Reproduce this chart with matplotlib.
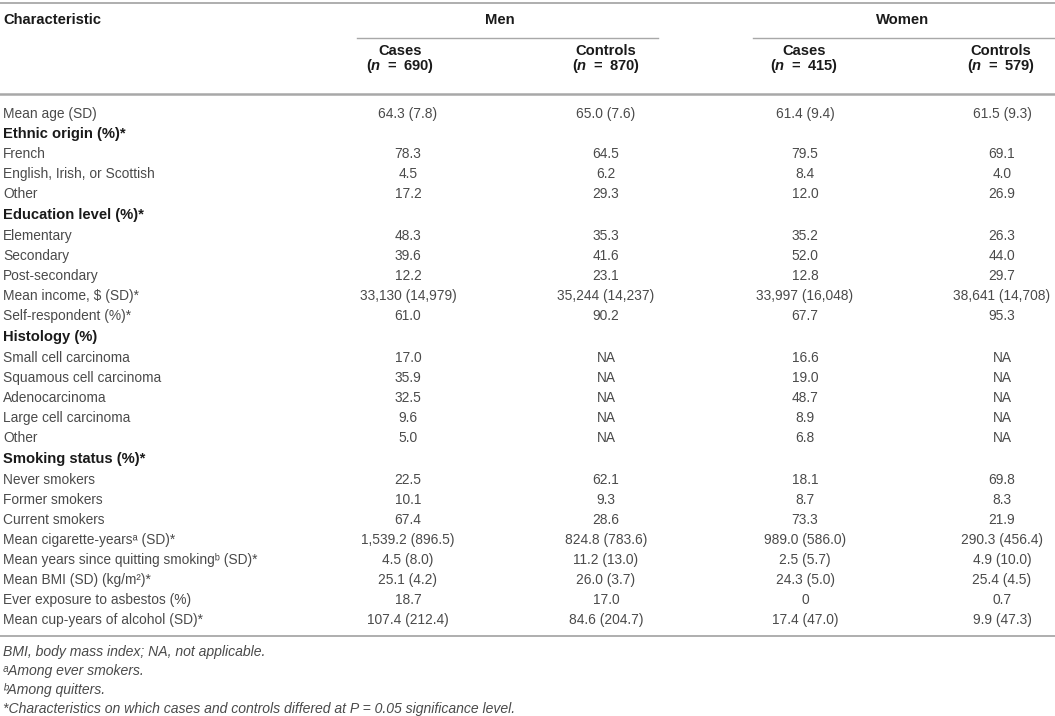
import matplotlib
matplotlib.use("Agg")
import matplotlib.pyplot as plt

plt.rcParams['font.family'] = ['Liberation Sans', 'DejaVu Sans']
plt.rcParams['mathtext.fontset'] = 'custom'
plt.rcParams['mathtext.rm'] = 'Liberation Sans'
plt.rcParams['mathtext.it'] = 'Liberation Sans:italic'
plt.rcParams['mathtext.bf'] = 'Liberation Sans:bold'
plt.rcParams['mathtext.bfit'] = 'Liberation Sans:italic:bold'

# table content
row_labels = [
    "Mean age (SD)",
    "Ethnic origin (%)*",
    "French",
    "English, Irish, or Scottish",
    "Other",
    "Education level (%)*",
    "Elementary",
    "Secondary",
    "Post-secondary",
    "Mean income, \\$ (SD)*",
    "Self-respondent (%)*",
    "Histology (%)",
    "Small cell carcinoma",
    "Squamous cell carcinoma",
    "Adenocarcinoma",
    "Large cell carcinoma",
    "Other",
    "Smoking status (%)*",
    "Never smokers",
    "Former smokers",
    "Current smokers",
    "Mean cigarette-years\u1d43 (SD)*",
    "Mean years since quitting smoking\u1d47 (SD)*",
    "Mean BMI (SD) (kg/m\u00b2)*",
    "Ever exposure to asbestos (%)",
    "Mean cup-years of alcohol (SD)*",
]
section_rows = [1, 5, 11, 17]

men_cases = ["64.3 (7.8)", "", "78.3", "4.5", "17.2", "", "48.3", "39.6", "12.2",
             "33,130 (14,979)", "61.0", "", "17.0", "35.9", "32.5", "9.6", "5.0", "",
             "22.5", "10.1", "67.4", "1,539.2 (896.5)", "4.5 (8.0)", "25.1 (4.2)",
             "18.7", "107.4 (212.4)"]
men_controls = ["65.0 (7.6)", "", "64.5", "6.2", "29.3", "", "35.3", "41.6", "23.1",
                "35,244 (14,237)", "90.2", "", "NA", "NA", "NA", "NA", "NA", "",
                "62.1", "9.3", "28.6", "824.8 (783.6)", "11.2 (13.0)", "26.0 (3.7)",
                "17.0", "84.6 (204.7)"]
women_cases = ["61.4 (9.4)", "", "79.5", "8.4", "12.0", "", "35.2", "52.0", "12.8",
               "33,997 (16,048)", "67.7", "", "16.6", "19.0", "48.7", "8.9", "6.8", "",
               "18.1", "8.7", "73.3", "989.0 (586.0)", "2.5 (5.7)", "24.3 (5.0)",
               "0", "17.4 (47.0)"]
women_controls = ["61.5 (9.3)", "", "69.1", "4.0", "26.9", "", "26.3", "44.0", "29.7",
                  "38,641 (14,708)", "95.3", "", "NA", "NA", "NA", "NA", "NA", "",
                  "69.8", "8.3", "21.9", "290.3 (456.4)", "4.9 (10.0)", "25.4 (4.5)",
                  "0.7", "9.9 (47.3)"]

group_names = ["Men", "Women"]
sub_names = ["Cases", "Controls", "Cases", "Controls"]
sub_counts = ["690", "870", "415", "579"]

footnotes = [
    "BMI, body mass index; NA, not applicable.",
    "\u1d43Among ever smokers.",
    "\u1d47Among quitters.",
    "*Characteristics on which cases and controls differed at P = 0.05 significance level.",
]

W, H = 1055, 716
fig = plt.figure(figsize=(W / 100, H / 100), dpi=100)
ax = fig.add_axes([0, 0, 1, 1])
ax.set_xlim(0, W)
ax.set_ylim(H, 0)
ax.axis('off')

fs = 9.9
fs_b = 10.6
txt = '#4a4a4a'
dark = '#1a1a1a'
rule = '#a8a8a8'
base = 5  # cap-centre to baseline offset, px

col_x = [408, 606, 805, 1002]
head_x = [400, 606, 804, 1001]
group_x = [500, 903]
group_span = [(357, 658), (753, 1055)]

# rules
ax.plot([0, W], [3, 3], color=rule, lw=1.3)
for a, b in group_span:
    ax.plot([a, b], [38, 38], color=rule, lw=1.0)
ax.plot([0, W], [94, 94], color=rule, lw=1.8)
ax.plot([0, W], [636, 636], color=rule, lw=1.3)

# header
ax.text(3, 19 + base, "Characteristic", fontsize=fs_b, fontweight='bold', color=dark,
        va='baseline', ha='left')
for name, x in zip(group_names, group_x):
    ax.text(x, 19 + base, name, fontsize=fs_b, fontweight='bold', color=dark,
            va='baseline', ha='center')
for name, n, x in zip(sub_names, sub_counts, head_x):
    ax.text(x, 50 + base, name, fontsize=fs_b, fontweight='bold', color=dark,
            va='baseline', ha='center')
    ax.text(x, 65 + base, "($\\mathbfit{n}$\u2002=\u2002" + n + ")", fontsize=fs_b,
            fontweight='bold', color=dark, va='baseline', ha='center')

# body
columns = [men_cases, men_controls, women_cases, women_controls]
y = 113
for i, label in enumerate(row_labels):
    if i > 0:
        y += 20
        if i in section_rows and i != section_rows[0]:
            y += 1
        if (i - 1) in section_rows and (i - 1) != section_rows[0]:
            y += 1
    bold = i in section_rows
    ax.text(3, y + base, label, fontsize=fs_b if bold else fs,
            color=dark if bold else txt,
            fontweight='bold' if bold else 'normal', va='baseline', ha='left')
    for col, x in zip(columns, col_x):
        if col[i]:
            ax.text(x, y + base, col[i], fontsize=fs, color=txt,
                    va='baseline', ha='center')

# footnotes
for k, note in enumerate(footnotes):
    ax.text(3, 651 + 19 * k + base, note, fontsize=10.1, style='italic', color=txt,
            va='baseline', ha='left')

fig.savefig("out.png", dpi=100)
